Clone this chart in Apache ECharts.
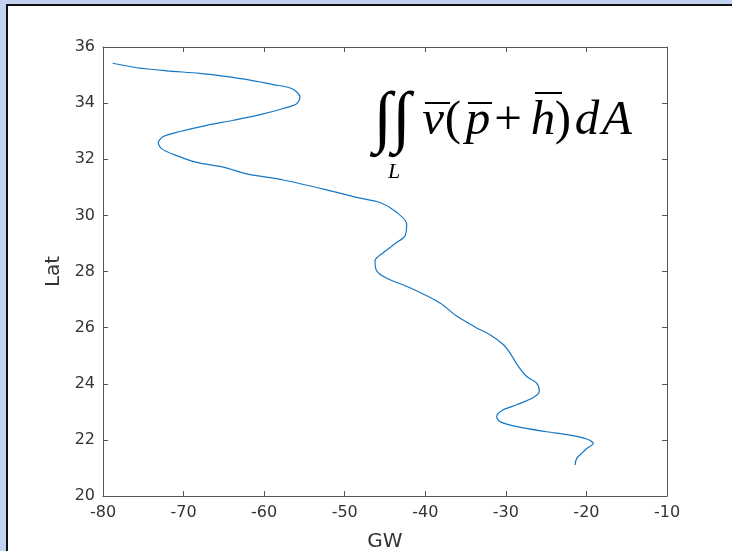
<!DOCTYPE html>
<html>
<head>
<meta charset="utf-8">
<script src="https://cdn.jsdelivr.net/npm/echarts@6/dist/echarts.min.js"></script>
<style>
  html, body { margin: 0; padding: 0; }
  body { width: 732px; height: 551px; overflow: hidden; background: #c3d2f0; position: relative; }
  #panel { position: absolute; left: 6px; top: 4px; right: 0; bottom: 0; background: #fff;
           border-top: 2px solid #111; border-left: 2px solid #111; }
  #myChart { position: absolute; left: 0; top: 0; width: 732px; height: 551px; }
</style>
</head>
<body>
<div id="panel"></div>
<div id="myChart"></div>
<script>
// track: longitude (GW) and latitude pairs, in order along the path
const lonValues = [-78.8, -75.8, -72.1, -68.0, -65.1, -61.75, -58.86, -56.6, -55.55, -55.96,
  -57.62, -60.5, -63.83, -67.13, -70.44, -72.52, -73.14, -72.71, -70.85, -68.37,
  -65.07, -62.16, -57.62, -52.23, -48.51, -45.62, -43.55, -42.31, -42.52, -43.55,
  -45.21, -46.24, -46.03, -44.79, -41.9, -38.17, -36.1, -33.62, -31.97, -30.32,
  -29.48, -28.45, -27.41, -26.17, -25.85, -26.59, -28.65, -30.32, -31.14, -30.73,
  -28.65, -24.93, -22.04, -19.96, -19.15, -19.96, -20.59, -21.21, -21.42];
const latValues = [35.42, 35.26, 35.15, 35.06, 34.96, 34.82, 34.66, 34.52, 34.22, 33.98,
  33.81, 33.59, 33.39, 33.21, 32.99, 32.81, 32.59, 32.37, 32.13, 31.89,
  31.72, 31.48, 31.26, 30.91, 30.64, 30.46, 30.11, 29.69, 29.27, 29.03,
  28.67, 28.38, 28.02, 27.76, 27.42, 26.88, 26.41, 25.99, 25.75, 25.40,
  25.09, 24.62, 24.26, 24.02, 23.72, 23.51, 23.25, 23.07, 22.83, 22.65,
  22.47, 22.29, 22.17, 22.03, 21.87, 21.69, 21.52, 21.34, 21.10];
const xTicks = [-80, -70, -60, -50, -40, -30, -20, -10];
const yTicks = [20, 22, 24, 26, 28, 30, 32, 34, 36];

let myChart = echarts.init(document.getElementById("myChart"));

const axisColor = '#555';
const labelFont = { color: '#333', fontFamily: 'DejaVu Sans', fontSize: 16 };

function boxAxis(extra) {
  return Object.assign({
    type: 'value',
    axisLine: { show: true, onZero: false, lineStyle: { color: axisColor, width: 1 } },
    axisTick: { show: true, inside: true, length: 5, lineStyle: { color: axisColor } },
    splitLine: { show: false }
  }, extra);
}

// one glyph of the formula
function glyph(x, y, text, font) {
  return { type: 'text', style: { x: x, y: y, text: text, font: font, fill: '#000',
    align: 'center', verticalAlign: 'middle', textAlign: 'center', textVerticalAlign: 'middle' } };
}
function bar(x1, x2, y) {
  return { type: 'line', shape: { x1: x1, y1: y, x2: x2, y2: y }, style: { stroke: '#000', lineWidth: 2 } };
}

const it = 'italic 49px "Liberation Serif"';
const rm = '49px "Liberation Serif"';

let option = {
  animation: false,
  grid: { left: 103, right: 65, top: 47, bottom: 55, outerBoundsMode: 'none' },
  xAxis: [
    boxAxis({
      min: xTicks[0], max: xTicks[xTicks.length - 1], interval: 10,
      axisLabel: Object.assign({ margin: 9 }, labelFont),
      name: 'GW', nameLocation: 'middle', nameGap: 36,
      nameTextStyle: { color: '#333', fontFamily: 'DejaVu Sans', fontSize: 20 }
    }),
    boxAxis({
      position: 'top',
      min: xTicks[0], max: xTicks[xTicks.length - 1], interval: 10,
      axisLabel: { show: false }
    })
  ],
  yAxis: [
    boxAxis({
      min: yTicks[0], max: yTicks[yTicks.length - 1], interval: 2,
      axisLabel: Object.assign({ margin: 8 }, labelFont),
      name: 'Lat', nameLocation: 'middle', nameGap: 38, nameRotate: 90,
      nameTextStyle: { color: '#333', fontFamily: 'DejaVu Sans', fontSize: 20 }
    }),
    boxAxis({
      position: 'right',
      min: yTicks[0], max: yTicks[yTicks.length - 1], interval: 2,
      axisLabel: { show: false }
    })
  ],
  graphic: [
    glyph(392, 121, '∫∫', 'bold 68px "Liberation Serif"'),
    glyph(394, 172, 'L', 'italic 22px "Liberation Serif"'),
    glyph(433, 121, 'v', it),
    glyph(453, 121, '(', rm),
    glyph(478, 121, 'p', it),
    glyph(508, 121, '+', rm),
    glyph(543, 121, 'h', it),
    glyph(563, 121, ')', rm),
    glyph(587, 121, 'd', it),
    glyph(617, 121, 'A', it),
    bar(425, 450, 103),
    bar(468, 492, 103),
    bar(535, 562, 93)
  ],
  series: [
    {
      type: 'line',
      data: lonValues.map((lon, i) => [lon, latValues[i]]),
      showSymbol: false,
      smooth: 0.3,
      lineStyle: { color: '#1577c4', width: 1.2 }
    }
  ]
};

myChart.setOption(option);
</script>
</body>
</html>
